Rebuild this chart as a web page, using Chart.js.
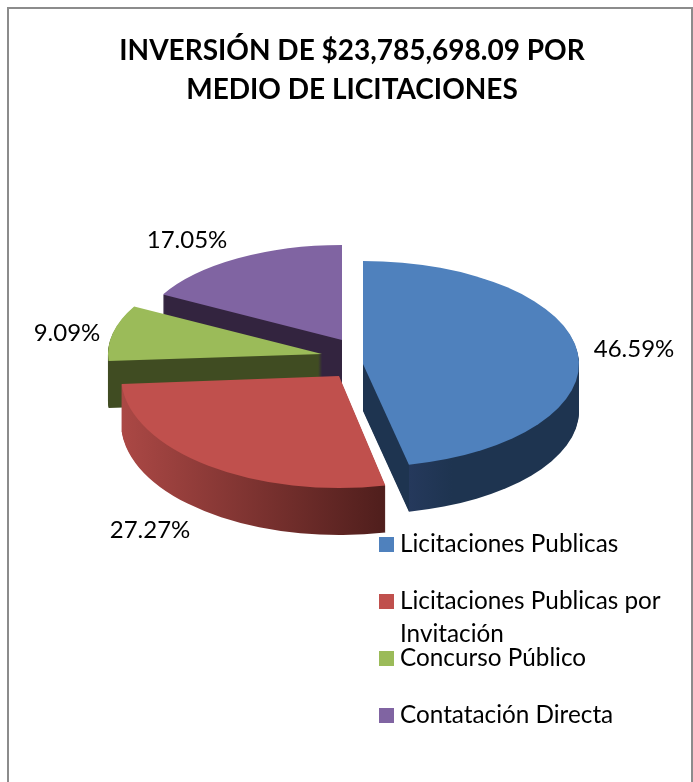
<!DOCTYPE html>
<html>
<head>
<meta charset="utf-8">
<style>html,body{margin:0;padding:0;background:#fff}canvas{display:block}</style>
<script src="https://cdn.jsdelivr.net/npm/chart.js@4/dist/chart.umd.min.js"></script>
</head>
<body>
<canvas id="c" width="693" height="782"></canvas>
<script>
const titleLines = ['INVERSIÓN DE $23,785,698.09 POR', 'MEDIO DE LICITACIONES'];
const categories = ['Licitaciones Publicas', 'Licitaciones Publicas por Invitación', 'Concurso Público', 'Contatación Directa'];
const shares = [46.59, 27.27, 9.09, 17.05];
const faceColors = ['#4f81bd', '#c0504d', '#9bbb59', '#8064a2'];

// 3D look: per-slice explosion, perspective-scaled radii, side-wall shades
const pieCentre = {x: 345, y: 360};
const explodeX = [18, -6, -23, -3];
const explodeY = [4, 16, -6, -20];
const radiusX = [216, 218, 214, 204];
const radiusY = [103, 112, 99, 95];
const wallDepth = 47;
const wallFrom = ['#25395c', '#ab4845', '#404c22', '#33243f'];
const wallTo = ['#1e3450', '#4f1e1c', '#404c22', '#33243f'];
const paintOrder = [3, 2, 1, 0];
const labelX = [634, 150, 67, 187];
const labelY = [349, 530, 333, 240];
const FONT = 'Lato, "Open Sans", sans-serif';

function wallGradient(c, a, i, ax, rx) {
  const cs = Math.cos(a.startAngle), ce = Math.cos(a.endAngle);
  const wraps0 = a.startAngle <= 0 && a.endAngle >= 0;
  const x0 = ax + rx * Math.min(cs, ce);
  const x1 = ax + rx * (wraps0 ? 1 : Math.max(cs, ce));
  const g = c.createLinearGradient(x0, 0, x1, 0);
  if (wraps0) {
    // lit strip just past the cut edge of the slice that crosses the front
    const bend = Math.min(cs, ce) === cs ? (rx * ce) / (x1 - x0) : (rx * cs) / (x1 - x0);
    g.addColorStop(0, wallTo[i]);
    g.addColorStop(bend, wallTo[i]);
    g.addColorStop(bend + 0.001, wallFrom[i]);
    g.addColorStop(Math.min(1, bend + 0.2), wallTo[i]);
    g.addColorStop(1, wallTo[i]);
  } else {
    g.addColorStop(0, wallFrom[i]);
    g.addColorStop(1, wallTo[i]);
  }
  return g;
}

const pie3d = {
  id: 'pie3d',
  beforeDraw(chart) {
    const c = chart.ctx;
    c.save();
    c.fillStyle = '#fff';
    c.fillRect(0, 0, chart.width, chart.height);
    c.strokeStyle = '#8c8c8c';
    c.lineWidth = 2;
    c.beginPath();
    c.moveTo(8, 800); c.lineTo(8, 8); c.lineTo(692, 8); c.lineTo(692, 800);
    c.stroke();
    c.restore();
  },
  beforeDatasetDraw(chart, args) {
    const c = chart.ctx;
    const arcs = chart.getDatasetMeta(args.index).data;
    paintOrder.forEach(i => {
      const a = arcs[i];
      const ax = pieCentre.x + explodeX[i], ay = pieCentre.y + explodeY[i];
      const rx = radiusX[i], ry = radiusY[i];
      c.save();
      c.fillStyle = wallGradient(c, a, i, ax, rx);
      for (let d = wallDepth; d > 0; d--) {
        c.beginPath();
        c.moveTo(ax, ay + d);
        c.ellipse(ax, ay + d, rx, ry, 0, a.startAngle, a.endAngle);
        c.closePath();
        c.fill();
      }
      c.translate(ax, ay);
      c.scale(rx / a.outerRadius, ry / a.outerRadius);
      c.translate(-a.x, -a.y);
      a.draw(c);
      c.restore();
    });
    return false;
  },
  afterDatasetsDraw(chart) {
    const c = chart.ctx;
    c.save();
    c.fillStyle = '#000';
    c.font = '24px ' + FONT;
    c.textAlign = 'center';
    c.textBaseline = 'middle';
    shares.forEach((v, i) => c.fillText(v.toFixed(2) + '%', labelX[i], labelY[i]));

    c.textAlign = 'left';
    c.textBaseline = 'alphabetic';
    c.font = '24.3px ' + FONT;
    let y = 552;
    categories.forEach((name, i) => {
      c.fillStyle = faceColors[i];
      c.fillRect(379, y - 15, 15, 15);
      c.fillStyle = '#000';
      const lines = [];
      let cur = '';
      name.split(' ').forEach(w => {
        const t = cur ? cur + ' ' + w : w;
        if (c.measureText(t).width > 280 && cur) { lines.push(cur); cur = w; } else cur = t;
      });
      lines.push(cur);
      lines.forEach((l, k) => c.fillText(l, 400, y + k * 33));
      y += 57;
    });
    c.restore();
  }
};

new Chart(document.getElementById('c'), {
  type: 'pie',
  data: {
    labels: categories,
    datasets: [{data: shares, backgroundColor: faceColors, borderWidth: 0, clip: false}]
  },
  options: {
    responsive: false,
    animation: false,
    rotation: 0,
    layout: {padding: {left: 11, top: 0, right: 0, bottom: 0}},
    plugins: {
      legend: {display: false},
      tooltip: {enabled: false},
      title: {
        display: true,
        text: titleLines,
        color: '#000',
        font: {family: FONT, size: 28, weight: 'bold', lineHeight: 1.39},
        padding: {top: 32, bottom: 10}
      }
    }
  },
  plugins: [pie3d]
});
</script>
</body>
</html>
